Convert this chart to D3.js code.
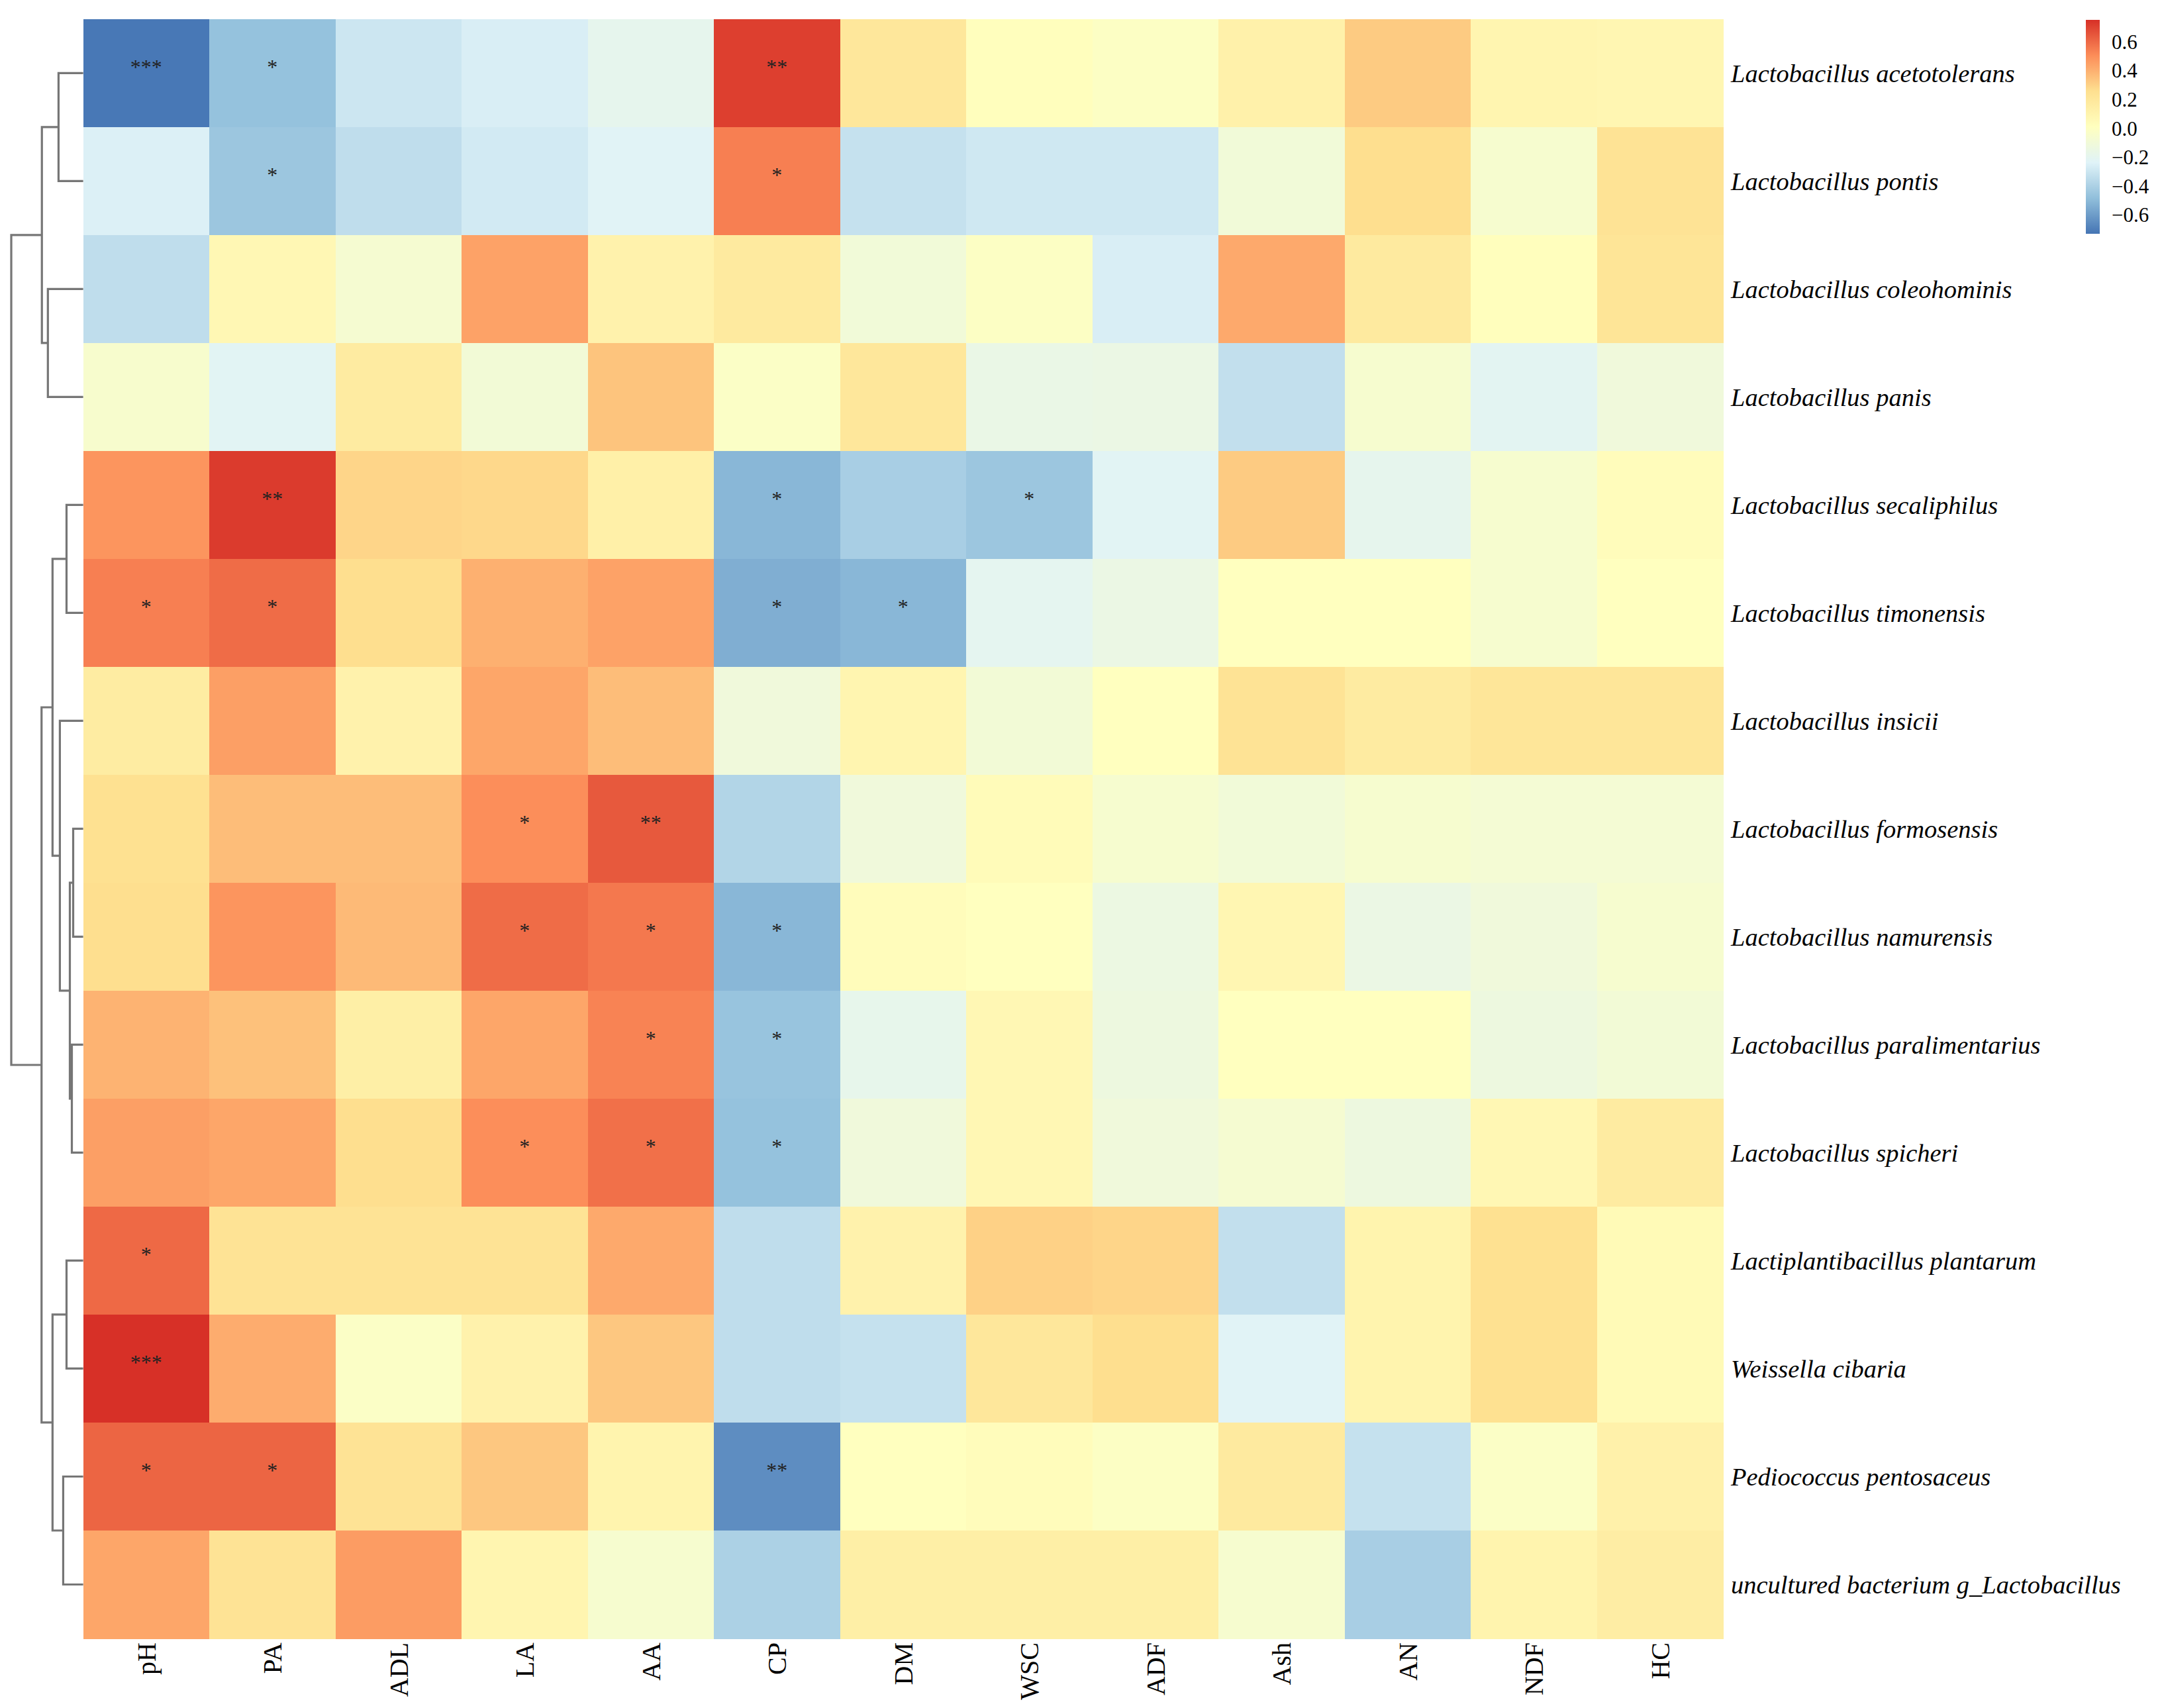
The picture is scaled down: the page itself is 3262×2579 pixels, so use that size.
<!DOCTYPE html>
<html>
<head>
<meta charset="utf-8">
<script src="https://cdn.jsdelivr.net/npm/d3@7"></script>
<style>
	body { margin: 0; background: #fff; }
	text { font-family: "Liberation Serif", "Times New Roman", serif; }
</style>
</head>
<body>
<div id="chart"></div>
<script>
// Rows (taxa) in dendrogram order, columns (silage indices)
const rowLabels = [
	"Lactobacillus acetotolerans",
	"Lactobacillus pontis",
	"Lactobacillus coleohominis",
	"Lactobacillus panis",
	"Lactobacillus secaliphilus",
	"Lactobacillus timonensis",
	"Lactobacillus insicii",
	"Lactobacillus formosensis",
	"Lactobacillus namurensis",
	"Lactobacillus paralimentarius",
	"Lactobacillus spicheri",
	"Lactiplantibacillus plantarum",
	"Weissella cibaria",
	"Pediococcus pentosaceus",
	"uncultured bacterium g_Lactobacillus"
];
const colLabels = ["pH", "PA", "ADL", "LA", "AA", "CP", "DM", "WSC", "ADF", "Ash", "AN", "NDF", "HC"];

// Correlation values, one array per row (same order as colLabels)
const corrValues = [
	[-0.72, -0.47, -0.30, -0.26, -0.19,  0.71,  0.20,  0.02, -0.01,  0.12,  0.32,  0.09,  0.08],
	[-0.25, -0.45, -0.34, -0.28, -0.23,  0.54, -0.32, -0.29, -0.29, -0.10,  0.26, -0.06,  0.23],
	[-0.34,  0.07, -0.07,  0.44,  0.11,  0.18, -0.10, -0.01, -0.26,  0.42,  0.18,  0.02,  0.22],
	[-0.05, -0.22,  0.17, -0.09,  0.34, -0.02,  0.20, -0.16, -0.15, -0.33, -0.06, -0.21, -0.11],
	[ 0.48,  0.72,  0.29,  0.28,  0.13, -0.51, -0.41, -0.45, -0.22,  0.32, -0.19, -0.06,  0.03],
	[ 0.54,  0.59,  0.26,  0.40,  0.44, -0.54, -0.51, -0.20, -0.15,  0.01,  0.01, -0.06,  0.01],
	[ 0.16,  0.45,  0.11,  0.43,  0.36, -0.11,  0.09, -0.09,  0.01,  0.23,  0.17,  0.21,  0.21],
	[ 0.25,  0.36,  0.36,  0.50,  0.64, -0.38, -0.11,  0.04, -0.06, -0.10, -0.06, -0.08, -0.08],
	[ 0.26,  0.48,  0.37,  0.59,  0.56, -0.51,  0.03,  0.01, -0.14,  0.08, -0.15, -0.11, -0.06],
	[ 0.39,  0.35,  0.14,  0.43,  0.53, -0.46, -0.18,  0.07, -0.13,  0.01,  0.01, -0.13, -0.09],
	[ 0.45,  0.43,  0.26,  0.50,  0.58, -0.47, -0.11,  0.07, -0.11, -0.07, -0.13,  0.07,  0.17],
	[ 0.60,  0.23,  0.23,  0.23,  0.42, -0.34,  0.11,  0.30,  0.29, -0.33,  0.10,  0.25,  0.05],
	[ 0.75,  0.41, -0.02,  0.11,  0.33, -0.34, -0.32,  0.20,  0.26, -0.23,  0.10,  0.25,  0.05],
	[ 0.61,  0.61,  0.23,  0.33,  0.10, -0.65,  0.01,  0.03, -0.01,  0.18, -0.32, -0.02,  0.12],
	[ 0.43,  0.23,  0.46,  0.09, -0.06, -0.40,  0.14,  0.14,  0.14, -0.06, -0.41,  0.10,  0.15]
];

// Significance marks: [row, column, mark]
const sigMarks = [
	[0, "pH", "***"], [0, "PA", "*"], [0, "CP", "**"],
	[1, "PA", "*"], [1, "CP", "*"],
	[4, "PA", "**"], [4, "CP", "*"], [4, "WSC", "*"],
	[5, "pH", "*"], [5, "PA", "*"], [5, "CP", "*"], [5, "DM", "*"],
	[7, "LA", "*"], [7, "AA", "**"],
	[8, "LA", "*"], [8, "AA", "*"], [8, "CP", "*"],
	[9, "AA", "*"], [9, "CP", "*"],
	[10, "LA", "*"], [10, "AA", "*"], [10, "CP", "*"],
	[11, "pH", "*"],
	[12, "pH", "***"],
	[13, "pH", "*"], [13, "PA", "*"], [13, "CP", "**"]
];

// Row clustering, hclust style: negative = leaf row (1-based), positive = earlier merge
const mergePairs = [
	[-8, -9], [-10, -11], [1, 2], [-5, -6], [-12, -13], [-14, -15], [-7, 3],
	[-1, -2], [4, 7], [5, 6], [-3, -4], [8, 11], [9, 10], [12, 13]
];
const mergeHeights = [15, 17, 20, 25, 25, 30, 35, 37, 46, 46, 53, 62, 62.5, 108];

const legendTicks = [-0.6, -0.4, -0.2, 0.0, 0.2, 0.4, 0.6];
const legendRange = [-0.73, 0.75];
const palette = ["#4575B4", "#91BFDB", "#E0F3F8", "#FFFFBF", "#FEE090", "#FC8D59", "#D73027"];

let width = 3262;
let height = 2579;
let heat = {"left": 125.6, "top": 28.8, "right": 2602, "bottom": 2474};

var svg = d3.select("#chart")
	.append("svg")
	.attr("width", width)
	.attr("height", height);

svg.append("rect").attr("width", width).attr("height", height).attr("fill", "#fff");

var x = d3.scaleBand().domain(colLabels).range([heat.left, heat.right]);
var y = d3.scaleBand().domain(d3.range(rowLabels.length)).range([heat.top, heat.bottom]);

var stops = palette.map((c, i) => legendRange[0] + i * (legendRange[1] - legendRange[0]) / (palette.length - 1));
var color = d3.scaleLinear().domain(stops).range(palette).clamp(true);

// Heatmap cells
var cells = [];
corrValues.forEach((row, r) => {
	row.forEach((v, c) => {
		cells.push({"row": r, "col": colLabels[c], "value": v});
	});
});

svg.append("g")
	.selectAll("rect")
	.data(cells)
	.enter()
	.append("rect")
	.attr("x", (d) => x(d.col))
	.attr("y", (d) => y(d.row))
	.attr("width", x.bandwidth() + 0.5)
	.attr("height", y.bandwidth() + 0.5)
	.attr("fill", (d) => color(d.value))
	.attr("shape-rendering", "crispEdges");

// Significance stars
svg.append("g")
	.selectAll("text")
	.data(sigMarks)
	.enter()
	.append("text")
	.attr("x", (d) => x(d[1]) + x.bandwidth() / 2)
	.attr("y", (d) => y(d[0]) + y.bandwidth() / 2)
	.attr("dy", "0.05em")
	.attr("text-anchor", "middle")
	.attr("font-size", 32)
	.attr("fill", "#222")
	.text((d) => d[2]);

// Row labels
svg.append("g")
	.selectAll("text")
	.data(rowLabels)
	.enter()
	.append("text")
	.attr("x", heat.right + 12)
	.attr("y", (d, i) => y(i) + y.bandwidth() / 2)
	.attr("dy", "0.35em")
	.attr("font-size", 38.5)
	.attr("font-style", "italic")
	.attr("fill", "#000")
	.text((d) => d);

// Column labels, rotated
svg.append("g")
	.selectAll("text")
	.data(colLabels)
	.enter()
	.append("text")
	.attr("transform", (d) => "translate(" + (x(d) + x.bandwidth() / 2) + "," + (heat.bottom + 6) + ") rotate(-90)")
	.attr("dy", "0.35em")
	.attr("text-anchor", "end")
	.attr("font-size", 40)
	.attr("fill", "#000")
	.text((d) => d);

// Dendrogram
var dx = d3.scaleLinear().domain([0, d3.max(mergeHeights)]).range([heat.left, 17]);
var nodes = [];
var nodePos = (id) => {
	if (id < 0) {
		return {"x": dx(0), "y": y(-id - 1) + y.bandwidth() / 2};
	}
	return nodes[id - 1];
};
mergePairs.forEach((pair, k) => {
	var a = nodePos(pair[0]);
	var b = nodePos(pair[1]);
	var hx = dx(mergeHeights[k]);
	nodes.push({"x": hx, "y": (a.y + b.y) / 2, "a": a, "b": b});
});

svg.append("g")
	.selectAll("path")
	.data(nodes)
	.enter()
	.append("path")
	.attr("d", (n) => "M" + n.a.x + "," + n.a.y + "H" + n.x + "V" + n.b.y + "H" + n.b.x)
	.attr("fill", "none")
	.attr("stroke", "#767676")
	.attr("stroke-width", 3.2);

// Colour legend
var ly = d3.scaleLinear().domain(legendRange).range([353, 30]);
var grad = svg.append("defs")
	.append("linearGradient")
	.attr("id", "legendGrad")
	.attr("x1", 0).attr("y1", 1)
	.attr("x2", 0).attr("y2", 0);
grad.selectAll("stop")
	.data(stops)
	.enter()
	.append("stop")
	.attr("offset", (d) => (d - legendRange[0]) / (legendRange[1] - legendRange[0]))
	.attr("stop-color", (d) => color(d));

svg.append("rect")
	.attr("x", 3150)
	.attr("y", ly(legendRange[1]))
	.attr("width", 21)
	.attr("height", ly(legendRange[0]) - ly(legendRange[1]))
	.attr("fill", "url(#legendGrad)");

svg.append("g")
	.selectAll("text")
	.data(legendTicks)
	.enter()
	.append("text")
	.attr("x", 3189)
	.attr("y", (d) => ly(d))
	.attr("dy", "0.35em")
	.attr("font-size", 31)
	.attr("fill", "#000")
	.text((d) => d3.format(".1f")(d));
</script>
</body>
</html>
